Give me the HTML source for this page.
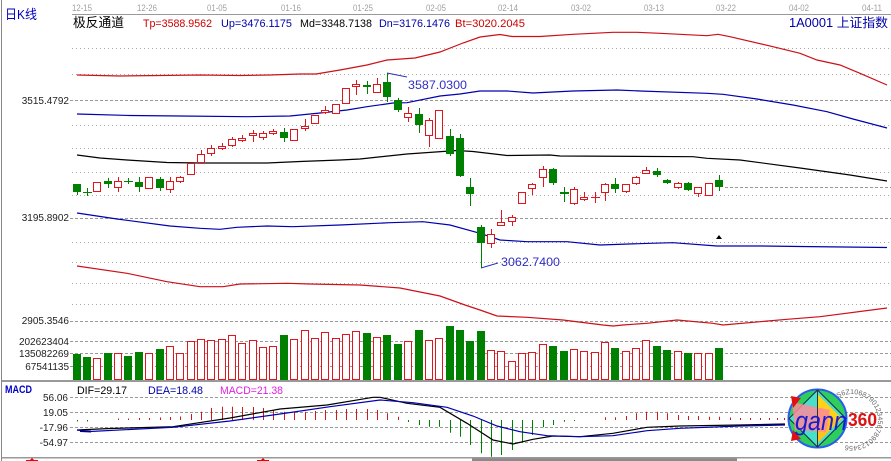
<!DOCTYPE html>
<html><head><meta charset="utf-8"><style>
html,body{margin:0;padding:0;background:#fff;}
svg{display:block;}
text{font-family:"Liberation Sans","Noto Sans CJK SC",sans-serif;}
.mono{font-family:"Liberation Mono",monospace;font-size:10px;fill:#222;}
.dt{font-size:9px;fill:#a0a0a0;}
</style></head><body>
<svg width="891" height="461" viewBox="0 0 891 461" xmlns="http://www.w3.org/2000/svg">
<rect width="891" height="461" fill="#fff"/>
<line x1="1.5" y1="0" x2="1.5" y2="461" stroke="#888"/>
<!-- top axis -->
<line x1="72" y1="14.5" x2="891" y2="14.5" stroke="#999"/>
<g class="dt">
<text x="72" y="11" textLength="20" lengthAdjust="spacingAndGlyphs">12-15</text>
<text x="137" y="11" textLength="20" lengthAdjust="spacingAndGlyphs">12-26</text>
<text x="207" y="11" textLength="20" lengthAdjust="spacingAndGlyphs">01-05</text>
<text x="281" y="11" textLength="20" lengthAdjust="spacingAndGlyphs">01-16</text>
<text x="353" y="11" textLength="20" lengthAdjust="spacingAndGlyphs">01-25</text>
<text x="426" y="11" textLength="20" lengthAdjust="spacingAndGlyphs">02-05</text>
<text x="498" y="11" textLength="20" lengthAdjust="spacingAndGlyphs">02-14</text>
<text x="571" y="11" textLength="20" lengthAdjust="spacingAndGlyphs">03-02</text>
<text x="644" y="11" textLength="20" lengthAdjust="spacingAndGlyphs">03-13</text>
<text x="716" y="11" textLength="20" lengthAdjust="spacingAndGlyphs">03-22</text>
<text x="789" y="11" textLength="20" lengthAdjust="spacingAndGlyphs">04-02</text>
<text x="862" y="11" textLength="20" lengthAdjust="spacingAndGlyphs">04-11</text>
</g>
<!-- header -->
<text x="5" y="19" font-size="13" fill="#0000c0" textLength="32" lengthAdjust="spacingAndGlyphs">日K线</text>
<text x="73" y="27" font-size="13" fill="#000" textLength="51" lengthAdjust="spacingAndGlyphs">极反通道</text>
<text x="143" y="27" font-size="11" fill="#cc0000" textLength="69" lengthAdjust="spacingAndGlyphs">Tp=3588.9562</text>
<text x="221" y="27" font-size="11" fill="#0000a8" textLength="71" lengthAdjust="spacingAndGlyphs">Up=3476.1175</text>
<text x="300" y="27" font-size="11" fill="#000" textLength="72" lengthAdjust="spacingAndGlyphs">Md=3348.7138</text>
<text x="379" y="27" font-size="11" fill="#0000a8" textLength="71" lengthAdjust="spacingAndGlyphs">Dn=3176.1476</text>
<text x="455" y="27" font-size="11" fill="#cc0000" textLength="70" lengthAdjust="spacingAndGlyphs">Bt=3020.2045</text>
<text x="789" y="27" font-size="12.5" fill="#0000a8" textLength="99" lengthAdjust="spacingAndGlyphs">1A0001 上证指数</text>
<!-- price grid -->
<g stroke="#a8a8a8" stroke-dasharray="1 3">
<line x1="72" y1="48.5" x2="891" y2="48.5"/>
<line x1="72" y1="74.5" x2="891" y2="74.5"/>
<line x1="72" y1="125.5" x2="891" y2="125.5"/>
<line x1="72" y1="148.5" x2="891" y2="148.5"/>
<line x1="72" y1="172.5" x2="891" y2="172.5"/>
<line x1="72" y1="195.5" x2="891" y2="195.5"/>
<line x1="72" y1="242.5" x2="891" y2="242.5"/>
<line x1="72" y1="262.5" x2="891" y2="262.5"/>
<line x1="72" y1="283.5" x2="891" y2="283.5"/>
<line x1="72" y1="304.5" x2="891" y2="304.5"/>
</g>
<g stroke="#999" stroke-dasharray="3 2">
<line x1="70" y1="100.5" x2="891" y2="100.5"/>
<line x1="70" y1="218.5" x2="891" y2="218.5"/>
<line x1="70" y1="321.5" x2="891" y2="321.5"/>
<line x1="70" y1="341.5" x2="891" y2="341.5"/>
<line x1="70" y1="353.5" x2="891" y2="353.5"/>
<line x1="70" y1="366.5" x2="891" y2="366.5"/>
<line x1="70" y1="397.5" x2="891" y2="397.5"/>
<line x1="70" y1="412.5" x2="891" y2="412.5"/>
<line x1="70" y1="427.5" x2="891" y2="427.5"/>
<line x1="70" y1="442.5" x2="891" y2="442.5"/>
</g>
<g class="mono" text-anchor="end">
<text x="69" y="104">3515.4792</text>
<text x="69" y="221">3195.8902</text>
<text x="69" y="324">2905.3546</text>
<text x="69" y="345">202623404</text>
<text x="69" y="357">135082269</text>
<text x="69" y="370">67541135</text>
<text x="68" y="401">56.06</text>
<text x="68" y="416">19.05</text>
<text x="68" y="431">-17.96</text>
<text x="68" y="446">-54.97</text>
</g>
<!-- bands -->
<g fill="none" stroke-width="1.2">
<polyline stroke="#cc1018" points="77,75 120,76 160,75.5 200,75 240,75.5 270,75 300,74 316,74 340,70 367,65 387,60 415,58 440,52 463,43 480,37 500,34.5 512,36.5 540,36.5 573,34.3 613,32.3 637,32.3 660,33.3 707,35.7 718,34.3 730,36.7 773,46.7 800,53.3 817,60 840,65 860,73.3 887,85"/>
<polyline stroke="#0000b0" points="77,114 130,115.5 180,116 247,116.7 290,116 320,113 347,110 367,106.7 393,103 407,102.7 440,96 460,94 480,91 507,91 533,93 573,91 617,90 640,91 707,93.3 723,94.3 757,99 793,105 827,111.7 853,119 887,128"/>
<polyline stroke="#000" points="77,155 100,158 127,160 167,162.5 200,163 267,163 300,161.5 340,160 360,159 407,154 457,150.5 473,151.5 507,155.5 550,155 560,156 693,156.7 707,158.3 740,160 800,168 850,175 887,181"/>
<polyline stroke="#0000b0" points="77,213 117,219 170,226 200,228.3 220,229.3 237,227.3 267,226 293,226.7 340,225 390,222.7 423,221.7 450,225 480,233.3 500,240 527,241.7 567,241.7 600,245 650,243.3 673,242.7 717,246 760,246 800,246.5 887,247.5"/>
<polyline stroke="#cc1018" points="77,266 127,273.3 167,281.7 200,286.7 223,286.7 240,284 287,283.3 310,284 360,285 400,288 440,296 465,305 480,310 497,316 527,317.3 563,320 603,325 613,326 623,325 647,323.3 677,320 713,323.3 723,325 787,319.3 820,316.7 887,308"/>
</g>
<line x1="725" y1="187.5" x2="891" y2="187.5" stroke="#999" stroke-dasharray="3 2"/>
<polygon points="716,239 722,239 719,235" fill="#000"/>
<!-- annotations -->
<line x1="387" y1="73" x2="407" y2="77" stroke="#3030c0"/>
<text x="408" y="89" font-size="12" fill="#3030c0" textLength="59" lengthAdjust="spacingAndGlyphs">3587.0300</text>
<line x1="481" y1="268" x2="498" y2="263" stroke="#3030c0"/>
<text x="501" y="266" font-size="12" fill="#3030c0" textLength="59" lengthAdjust="spacingAndGlyphs">3062.7400</text>
<!-- green candles -->
<g stroke="#008000">
<line x1="77.5" y1="184" x2="77.5" y2="195"/><line x1="87.5" y1="188" x2="87.5" y2="196"/><line x1="83" y1="192.5" x2="92" y2="192.5"/>
<line x1="108.5" y1="178" x2="108.5" y2="188"/><line x1="128.5" y1="178" x2="128.5" y2="184"/><line x1="124" y1="181.5" x2="133" y2="181.5"/>
<line x1="139.5" y1="177" x2="139.5" y2="192"/><line x1="160.5" y1="177" x2="160.5" y2="191"/><line x1="284.5" y1="128" x2="284.5" y2="142"/>
<line x1="367.5" y1="81" x2="367.5" y2="94"/><line x1="387.5" y1="73" x2="387.5" y2="102"/><line x1="398.5" y1="98" x2="398.5" y2="112"/>
<line x1="419.5" y1="108" x2="419.5" y2="133"/><line x1="450.5" y1="129" x2="450.5" y2="156"/><line x1="460.5" y1="134" x2="460.5" y2="177"/>
<line x1="470.5" y1="178" x2="470.5" y2="206"/><line x1="481.5" y1="225" x2="481.5" y2="268"/><line x1="553.5" y1="168" x2="553.5" y2="185"/>
<line x1="564.5" y1="187" x2="564.5" y2="202"/><line x1="615.5" y1="178" x2="615.5" y2="193"/><line x1="657.5" y1="168" x2="657.5" y2="177"/>
<line x1="667.5" y1="179" x2="667.5" y2="184"/><line x1="688.5" y1="182" x2="688.5" y2="191"/><line x1="719.5" y1="175" x2="719.5" y2="191"/>
</g>
<g fill="#008000">
<rect x="73" y="184" width="8" height="8"/><rect x="104" y="181" width="8" height="3"/><rect x="135" y="182" width="8" height="5"/>
<rect x="156" y="179" width="8" height="9"/><rect x="280" y="132" width="8" height="6"/><rect x="363" y="85" width="8" height="2"/>
<rect x="383" y="82" width="8" height="15"/><rect x="394" y="100" width="8" height="10"/><rect x="415" y="114" width="8" height="11"/>
<rect x="446" y="136" width="8" height="18"/><rect x="456" y="138" width="8" height="38"/><rect x="466" y="187" width="8" height="7"/>
<rect x="477" y="227" width="8" height="16"/><rect x="549" y="169" width="8" height="14"/><rect x="560" y="192" width="9" height="2"/>
<rect x="611" y="184" width="8" height="5"/><rect x="653" y="171" width="8" height="4"/><rect x="663" y="180" width="8" height="3"/>
<rect x="684" y="183" width="8" height="7"/><rect x="715" y="180" width="8" height="7"/>
</g>
<!-- red candles -->
<g stroke="#e0161e" fill="#fff">
<line x1="97.5" y1="182" x2="97.5" y2="191"/><rect x="93.5" y="182.5" width="7" height="9"/>
<line x1="118.5" y1="177" x2="118.5" y2="192"/><rect x="114.5" y="181.5" width="7" height="6"/>
<line x1="149.5" y1="177" x2="149.5" y2="188"/><rect x="145.5" y="177.5" width="7" height="11"/>
<line x1="170.5" y1="177" x2="170.5" y2="193"/><rect x="166.5" y="181.5" width="7" height="8"/>
<line x1="180.5" y1="176" x2="180.5" y2="183"/><rect x="176.5" y="177.5" width="7" height="4"/>
<rect x="187.5" y="163.5" width="7" height="11"/>
<line x1="201.5" y1="150" x2="201.5" y2="163"/><rect x="197.5" y="154.5" width="7" height="8"/>
<line x1="211.5" y1="145" x2="211.5" y2="156"/><rect x="207.5" y="148.5" width="7" height="5"/>
<line x1="222.5" y1="143" x2="222.5" y2="150"/><rect x="218.5" y="146.5" width="7" height="2"/>
<line x1="232.5" y1="137" x2="232.5" y2="147"/><rect x="228.5" y="139.5" width="7" height="6"/>
<line x1="242.5" y1="135" x2="242.5" y2="142"/><rect x="238.5" y="138.5" width="7" height="2"/>
<line x1="253.5" y1="130" x2="253.5" y2="142"/><rect x="249.5" y="133.5" width="7" height="2"/>
<line x1="263.5" y1="131" x2="263.5" y2="140"/><rect x="259.5" y="133.5" width="7" height="4"/>
<line x1="273.5" y1="129" x2="273.5" y2="135"/><rect x="269.5" y="131.5" width="7" height="2"/>
<line x1="294.5" y1="129" x2="294.5" y2="141"/><rect x="290.5" y="129.5" width="7" height="11"/>
<line x1="305.5" y1="119" x2="305.5" y2="131"/><rect x="301.5" y="126.5" width="7" height="2"/>
<rect x="311.5" y="115.5" width="7" height="8"/>
<line x1="325.5" y1="106" x2="325.5" y2="114"/><rect x="321.5" y="110.5" width="7" height="2"/>
<rect x="332.5" y="104.5" width="7" height="9"/>
<rect x="342.5" y="88.5" width="7" height="15"/>
<line x1="356.5" y1="80" x2="356.5" y2="95"/><rect x="352.5" y="84.5" width="7" height="2"/>
<line x1="377.5" y1="78" x2="377.5" y2="93"/><rect x="373.5" y="84.5" width="7" height="8"/>
<line x1="408.5" y1="107" x2="408.5" y2="122"/><rect x="404.5" y="113.5" width="7" height="4"/>
<line x1="429.5" y1="118" x2="429.5" y2="147"/><rect x="425.5" y="120.5" width="7" height="15"/>
<rect x="435.5" y="110.5" width="7" height="28"/>
<line x1="491.5" y1="229" x2="491.5" y2="248"/><rect x="487.5" y="234.5" width="7" height="9"/>
<line x1="501.5" y1="210" x2="501.5" y2="225"/><rect x="497.5" y="222.5" width="7" height="3"/>
<line x1="512.5" y1="215" x2="512.5" y2="226"/><rect x="508.5" y="217.5" width="7" height="4"/>
<rect x="518.5" y="192.5" width="7" height="11"/>
<line x1="532.5" y1="183" x2="532.5" y2="195"/><rect x="528.5" y="184.5" width="7" height="4"/>
<line x1="543.5" y1="166" x2="543.5" y2="187"/><rect x="539.5" y="169.5" width="7" height="8"/>
<line x1="574.5" y1="187" x2="574.5" y2="205"/><rect x="570.5" y="189.5" width="7" height="14"/>
<line x1="584.5" y1="192" x2="584.5" y2="201"/><rect x="580.5" y="197.5" width="7" height="2"/>
<line x1="595.5" y1="192" x2="595.5" y2="203"/><line x1="591" y1="197.5" x2="600" y2="197.5"/>
<line x1="605.5" y1="183" x2="605.5" y2="201"/><rect x="601.5" y="184.5" width="7" height="8"/>
<line x1="626.5" y1="184" x2="626.5" y2="193"/><rect x="622.5" y="184.5" width="7" height="7"/>
<line x1="636.5" y1="176" x2="636.5" y2="185"/><rect x="632.5" y="177.5" width="7" height="6"/>
<line x1="646.5" y1="167" x2="646.5" y2="174"/><rect x="642.5" y="170.5" width="7" height="3"/>
<line x1="678.5" y1="182" x2="678.5" y2="189"/><rect x="674.5" y="183.5" width="7" height="4"/>
<line x1="698.5" y1="187" x2="698.5" y2="197"/><rect x="694.5" y="187.5" width="7" height="6"/>
<line x1="709.5" y1="183" x2="709.5" y2="196"/><rect x="705.5" y="183.5" width="7" height="12"/>
</g>
<!-- volume -->
<g fill="#008000">
<rect x="73" y="354" width="8" height="26"/><rect x="83" y="357" width="8" height="23"/><rect x="104" y="353" width="8" height="27"/>
<rect x="124" y="356" width="8" height="24"/><rect x="135" y="352" width="8" height="28"/><rect x="156" y="349" width="8" height="31"/>
<rect x="280" y="335" width="8" height="45"/><rect x="363" y="333" width="8" height="47"/><rect x="383" y="335" width="8" height="45"/>
<rect x="394" y="344" width="8" height="36"/><rect x="415" y="330" width="8" height="50"/><rect x="446" y="326" width="8" height="54"/>
<rect x="456" y="330" width="8" height="50"/><rect x="466" y="341" width="8" height="39"/><rect x="477" y="331" width="8" height="49"/>
<rect x="549" y="346" width="8" height="34"/><rect x="560" y="351" width="8" height="29"/><rect x="611" y="348" width="8" height="32"/>
<rect x="653" y="346" width="8" height="34"/><rect x="663" y="350" width="8" height="30"/><rect x="684" y="353" width="8" height="27"/>
<rect x="715" y="348" width="8" height="32"/>
</g>
<g stroke="#e0161e" fill="#fff">
<rect x="93.5" y="358.5" width="7" height="21"/><rect x="114.5" y="353.5" width="7" height="26"/><rect x="145.5" y="353.5" width="7" height="26"/>
<rect x="166.5" y="346.5" width="7" height="33"/><rect x="176.5" y="353.5" width="7" height="26"/><rect x="187.5" y="341.5" width="7" height="38"/>
<rect x="197.5" y="339.5" width="7" height="40"/><rect x="207.5" y="340.5" width="7" height="39"/><rect x="218.5" y="339.5" width="7" height="40"/>
<rect x="228.5" y="335.5" width="7" height="44"/><rect x="238.5" y="343.5" width="7" height="36"/><rect x="249.5" y="340.5" width="7" height="39"/>
<rect x="259.5" y="347.5" width="7" height="32"/><rect x="269.5" y="346.5" width="7" height="33"/><rect x="290.5" y="339.5" width="7" height="40"/>
<rect x="301.5" y="330.5" width="7" height="49"/><rect x="311.5" y="338.5" width="7" height="41"/><rect x="321.5" y="332.5" width="7" height="47"/>
<rect x="332.5" y="338.5" width="7" height="41"/><rect x="342.5" y="334.5" width="7" height="45"/><rect x="352.5" y="331.5" width="7" height="48"/>
<rect x="373.5" y="337.5" width="7" height="42"/><rect x="404.5" y="341.5" width="7" height="38"/><rect x="425.5" y="340.5" width="7" height="39"/>
<rect x="435.5" y="338.5" width="7" height="41"/><rect x="487.5" y="350.5" width="7" height="29"/><rect x="497.5" y="351.5" width="7" height="28"/>
<rect x="508.5" y="361.5" width="7" height="18"/><rect x="518.5" y="353.5" width="7" height="26"/><rect x="528.5" y="352.5" width="7" height="27"/>
<rect x="539.5" y="344.5" width="7" height="35"/><rect x="570.5" y="349.5" width="7" height="30"/><rect x="580.5" y="351.5" width="7" height="28"/>
<rect x="591.5" y="352.5" width="7" height="27"/><rect x="601.5" y="342.5" width="7" height="37"/><rect x="622.5" y="351.5" width="7" height="28"/>
<rect x="632.5" y="348.5" width="7" height="31"/><rect x="642.5" y="340.5" width="7" height="39"/><rect x="674.5" y="351.5" width="7" height="28"/>
<rect x="694.5" y="353.5" width="7" height="26"/><rect x="705.5" y="353.5" width="7" height="26"/>
</g>
<rect x="2" y="380" width="889" height="2" fill="#999"/>
<!-- MACD panel -->
<text x="5" y="393" font-family="Liberation Serif, serif" font-weight="bold" font-size="11" fill="#0000c8" textLength="27" lengthAdjust="spacingAndGlyphs">MACD</text>
<text x="77" y="394" font-size="11" fill="#000" textLength="50" lengthAdjust="spacingAndGlyphs">DIF=29.17</text>
<text x="148" y="394" font-size="11" fill="#0000a8" textLength="55" lengthAdjust="spacingAndGlyphs">DEA=18.48</text>
<text x="220" y="394" font-size="11" fill="#e020e0" textLength="63" lengthAdjust="spacingAndGlyphs">MACD=21.38</text>
<g stroke="#d01818">
<line x1="118.5" y1="420" x2="118.5" y2="418.5"/><line x1="128.5" y1="420" x2="128.5" y2="418.5"/><line x1="139.5" y1="420" x2="139.5" y2="418"/>
<line x1="149.5" y1="420" x2="149.5" y2="418"/><line x1="160.5" y1="420" x2="160.5" y2="417.5"/><line x1="170.5" y1="420" x2="170.5" y2="417"/>
<line x1="180.5" y1="420" x2="180.5" y2="416.5"/><line x1="191.5" y1="420" x2="191.5" y2="414"/><line x1="201.5" y1="420" x2="201.5" y2="411.7"/>
<line x1="211.5" y1="420" x2="211.5" y2="408"/><line x1="222.5" y1="420" x2="222.5" y2="406.7"/><line x1="232.5" y1="420" x2="232.5" y2="406.7"/>
<line x1="242.5" y1="420" x2="242.5" y2="407"/><line x1="253.5" y1="420" x2="253.5" y2="407"/><line x1="263.5" y1="420" x2="263.5" y2="408"/>
<line x1="273.5" y1="420" x2="273.5" y2="410"/><line x1="284.5" y1="420" x2="284.5" y2="411.7"/><line x1="294.5" y1="420" x2="294.5" y2="411.7"/>
<line x1="305.5" y1="420" x2="305.5" y2="411.7"/><line x1="315.5" y1="420" x2="315.5" y2="411"/><line x1="325.5" y1="420" x2="325.5" y2="410"/>
<line x1="336.5" y1="420" x2="336.5" y2="410"/><line x1="346.5" y1="420" x2="346.5" y2="409"/><line x1="356.5" y1="420" x2="356.5" y2="409"/>
<line x1="367.5" y1="420" x2="367.5" y2="409"/><line x1="377.5" y1="420" x2="377.5" y2="410"/><line x1="387.5" y1="420" x2="387.5" y2="413.3"/>
<line x1="398.5" y1="420" x2="398.5" y2="416.7"/>
<line x1="605.5" y1="420" x2="605.5" y2="417.3"/><line x1="615.5" y1="420" x2="615.5" y2="417.3"/><line x1="626.5" y1="420" x2="626.5" y2="416"/>
<line x1="636.5" y1="420" x2="636.5" y2="413.3"/><line x1="646.5" y1="420" x2="646.5" y2="411.7"/><line x1="657.5" y1="420" x2="657.5" y2="411.7"/>
<line x1="667.5" y1="420" x2="667.5" y2="413.3"/><line x1="678.5" y1="420" x2="678.5" y2="415"/><line x1="688.5" y1="420" x2="688.5" y2="416"/>
<line x1="698.5" y1="420" x2="698.5" y2="416"/><line x1="709.5" y1="420" x2="709.5" y2="416.7"/><line x1="719.5" y1="420" x2="719.5" y2="416.7"/>
<line x1="730.5" y1="420" x2="730.5" y2="417.5"/><line x1="740.5" y1="420" x2="740.5" y2="418"/><line x1="750.5" y1="420" x2="750.5" y2="418"/>
<line x1="760.5" y1="420" x2="760.5" y2="418"/><line x1="769.5" y1="420" x2="769.5" y2="418"/><line x1="777.5" y1="420" x2="777.5" y2="418"/>
<line x1="784.5" y1="420" x2="784.5" y2="418"/>
</g>
<g stroke="#008000">
<line x1="77.5" y1="420" x2="77.5" y2="421.5"/><line x1="87.5" y1="420" x2="87.5" y2="421.5"/><line x1="408.5" y1="420" x2="408.5" y2="422"/>
<line x1="419.5" y1="420" x2="419.5" y2="425"/><line x1="429.5" y1="420" x2="429.5" y2="426.7"/><line x1="439.5" y1="420" x2="439.5" y2="426.7"/>
<line x1="450.5" y1="420" x2="450.5" y2="432.7"/><line x1="460.5" y1="420" x2="460.5" y2="436.7"/><line x1="470.5" y1="420" x2="470.5" y2="445"/>
<line x1="481.5" y1="420" x2="481.5" y2="453.3"/><line x1="491.5" y1="420" x2="491.5" y2="456.7"/><line x1="501.5" y1="420" x2="501.5" y2="455"/>
<line x1="512.5" y1="420" x2="512.5" y2="450"/><line x1="522.5" y1="420" x2="522.5" y2="442.7"/><line x1="532.5" y1="420" x2="532.5" y2="435"/>
<line x1="543.5" y1="420" x2="543.5" y2="427.3"/><line x1="553.5" y1="420" x2="553.5" y2="425"/><line x1="564.5" y1="420" x2="564.5" y2="421.7"/>
<line x1="574.5" y1="420" x2="574.5" y2="421"/>
</g>
<polyline fill="none" stroke="#000" stroke-width="1.2" points="77,430 110,428.5 173,426.7 230,418 280,409 327,405 373,397.3 380,397.3 407,403.3 440,407.3 467,423.3 493,440 513,444 533,439.3 553,436 580,436.7 613,433.3 647,427.3 680,426 740,425 785,424"/>
<polyline fill="none" stroke="#0000b0" stroke-width="1.2" points="77,430 90,431.5 173,427.3 230,421 280,414 330,406.7 380,400 413,402.7 447,407.3 473,416 497,426 520,431.7 547,435.7 580,436.7 613,435.7 647,430.7 680,428.3 740,426 785,425"/>
<line x1="80" y1="431" x2="91" y2="431.5" stroke="#000080" stroke-width="2"/>
<!-- bottom -->
<rect x="2" y="457" width="889" height="1.5" fill="#999"/>
<rect x="472" y="458.5" width="265" height="2.5" fill="#8a8a8a"/>
<polygon points="29,461 32,458 35,461" fill="#e00"/>
<line x1="26" y1="460.5" x2="38" y2="460.5" stroke="#e00"/>
<polygon points="260,461 263,458 266,461" fill="#e00"/>
<line x1="257" y1="460.5" x2="269" y2="460.5" stroke="#e00"/>
<!-- logo -->
<defs><path id="arc" d="M838,398 A26,26 0 1,1 842,444"/></defs>
<text font-size="7" fill="#666"><textPath href="#arc">S6Z10687901234567890123456</textPath></text>
<circle cx="817.5" cy="418.5" r="29" fill="#2ccf5a" stroke="#2a5cf0" stroke-width="2"/>
<polygon points="817.5,390 846,418.5 817.5,447 789,418.5" fill="#48e0c8" stroke="#225" stroke-width="1"/>
<polygon points="817.5,394 842,418.5 817.5,418.5" fill="#ffd21a"/>
<polygon points="817.5,418.5 842,418.5 817.5,443" fill="#ffc21a"/>
<polygon points="792,402 830,410 826,432 795,430" fill="#ff8a9a" opacity="0.85"/>
<polygon points="791,396 801,398 793,408" fill="#e01010"/>
<polygon points="791,441 801,439 793,430" fill="#e01010"/>
<line x1="817.5" y1="390" x2="817.5" y2="447" stroke="#333"/>
<text x="795" y="430" font-family="Liberation Serif, serif" font-style="italic" font-size="27" fill="#1a1ad0" textLength="52" lengthAdjust="spacingAndGlyphs">gann</text>
<text x="848" y="426" font-weight="bold" font-size="18" fill="#dd1111" textLength="29" lengthAdjust="spacingAndGlyphs">360</text>
</svg>
</body></html>
